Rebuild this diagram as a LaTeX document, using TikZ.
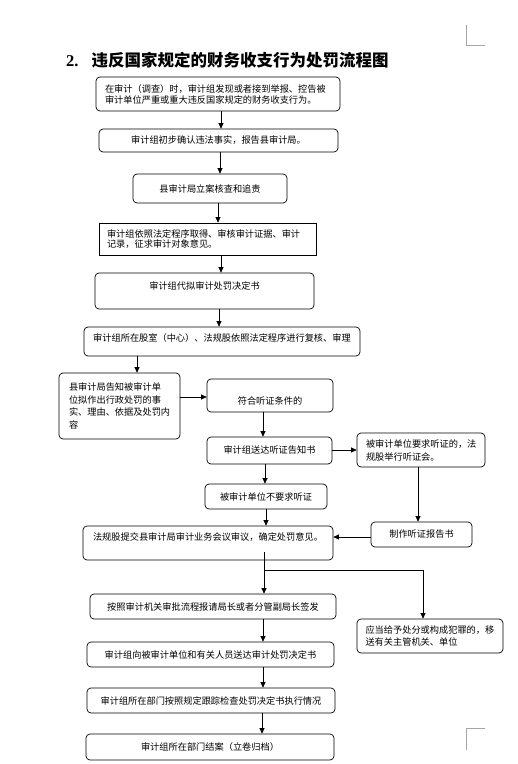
\documentclass[tikz,border=0pt]{standalone}
\usepackage{fontspec}
\setmainfont{Liberation Serif}
\newfontfamily\cjk{Noto Sans CJK SC}
\usetikzlibrary{arrows.meta,calc}

\begin{document}
\begin{tikzpicture}
[x=1pt,y=-1pt,%
  lineDecorate/.style={-{Triangle[length=5.5pt,width=5pt]},line width=0.7pt},%
  nodeDecorate/.style={shape=rectangle,draw,line width=0.7pt,rounded corners=4pt,inner sep=0pt,font=\cjk\fontsize{9.2}{12.5}\selectfont},%
  markDecorate/.style={draw=black!35,line width=0.6pt}]
\useasboundingbox (0,0) rectangle (518,764);
%% title and page marks
\node (title) at (66,60) [anchor=west,inner sep=0pt,font=\bfseries\fontsize{16.5}{20}\selectfont] {2.\hspace{13pt}{\cjk 违反国家规定的财务收支行为处罚流程图}};
\draw[markDecorate] (466,25) -- (466,45) -- (485,45);
\draw[markDecorate] (485,728) -- (466,728) -- (466,750);
%% boxes with one centred line
\foreach \nodename/\x/\y/\w/\h/\txt in {
  chubu/218.5/140.5/239/23/审计组初步确认违法事实，报告县审计局。,
  lian/210/188.5/154/29/县审计局立案核查和追责,
  songda/269.5/450.5/125/27/审计组送达听证告知书,
  buyaoqiu/266/496.5/122/25/被审计单位不要求听证,
  baogao/421.5/534.5/101/25/制作听证报告书,
  qianfa/213/606.5/246/25/按照审计机关审批流程报请局长或者分管副局长签发,
  songjue/210.5/654.5/247/25/审计组向被审计单位和有关人员送达审计处罚决定书,
  genzong/211/700.5/248/25/审计组所在部门按照规定跟踪检查处罚决定书执行情况,
  jiean/210/747/248/26/审计组所在部门结案（立卷归档）}
{
  \node (\nodename) at (\x,\y) [nodeDecorate,minimum width=\w,minimum height=\h] {\txt};
}
%% boxes with the line set off the middle
\node (dainai) at (204.5,291) [nodeDecorate,minimum width=219,text height=16.4pt,text depth=19.6pt] {审计组代拟审计处罚决定书};
\node (fuhe) at (222,341.5) [nodeDecorate,minimum width=276,text height=14.4pt,text depth=14.6pt] {审计组所在股室（中心）、法规股依照法定程序进行复核、审理};
\node (tingzheng) at (270,395.5) [nodeDecorate,minimum width=126,text height=25.4pt,text depth=7.6pt] {符合听证条件的};
\node (tijiao) at (208,543) [nodeDecorate,minimum width=250,text height=14.4pt,text depth=19.6pt] {法规股提交县审计局审计业务会议审议，确定处罚意见。};
%% boxes with left-aligned lines
\node (shenji) at (218,94) [nodeDecorate,minimum width=244,minimum height=34,text width=226pt,align=left,font=\cjk\fontsize{9.2}{11}\selectfont] {在审计（调查）时，审计组发现或者接到举报、控告被\\审计单位严重或重大违反国家规定的财务收支行为。};
\node (quzheng) at (207.5,239) [nodeDecorate,sharp corners,minimum width=217,minimum height=32,text width=201pt,align=left,font=\cjk\fontsize{9.2}{10.5}\selectfont] {审计组依照法定程序取得、审核审计证据、审计\\记录，征求审计对象意见。};
\node (gaozhi) at (119.5,406) [nodeDecorate,minimum width=121,minimum height=66,text width=101pt,align=left,font=\cjk\fontsize{9.2}{12.7}\selectfont] {县审计局告知被审计单\\位拟作出行政处罚的事\\实、理由、依据及处罚内\\容};
\node (yaoqiu) at (421,450) [nodeDecorate,minimum width=128,minimum height=34,text width=110pt,align=left,font=\cjk\fontsize{9.2}{13}\selectfont] {被审计单位要求听证的，法\\规股举行听证会。};
\node (yisong) at (430,636) [nodeDecorate,minimum width=146,minimum height=34,text width=129pt,align=left,font=\cjk\fontsize{9.2}{12}\selectfont] {应当给予处分或构成犯罪的，移\\送有关主管机关、单位};
%% connectors
\coordinate (split) at (264,570);
\path
\foreach \startnode/\endnode/\x in {
  shenji/chubu/221, chubu/lian/220, lian/quzheng/218, quzheng/dainai/221,
  dainai/fuhe/219, fuhe/gaozhi/137, tingzheng/songda/263, songda/buyaoqiu/265,
  buyaoqiu/tijiao/266, yaoqiu/baogao/418, qianfa/songjue/263,
  songjue/genzong/263, genzong/jiean/262}
{
  (\startnode.south -| \x,0) edge[lineDecorate] (\endnode.north -| \x,0)
}
(gaozhi.east |- 0,397) edge[lineDecorate] (tingzheng.west |- 0,397)
(songda.east |- 0,450) edge[lineDecorate] (yaoqiu.west |- 0,450)
(baogao.west |- 0,537) edge[lineDecorate] (tijiao.east |- 0,537)
($(tijiao.south -| split)+(0,-8)$) edge[lineDecorate] (qianfa.north -| split);
\draw[lineDecorate] (split) -| (yisong.north -| 423,0);
\end{tikzpicture}
\end{document}
